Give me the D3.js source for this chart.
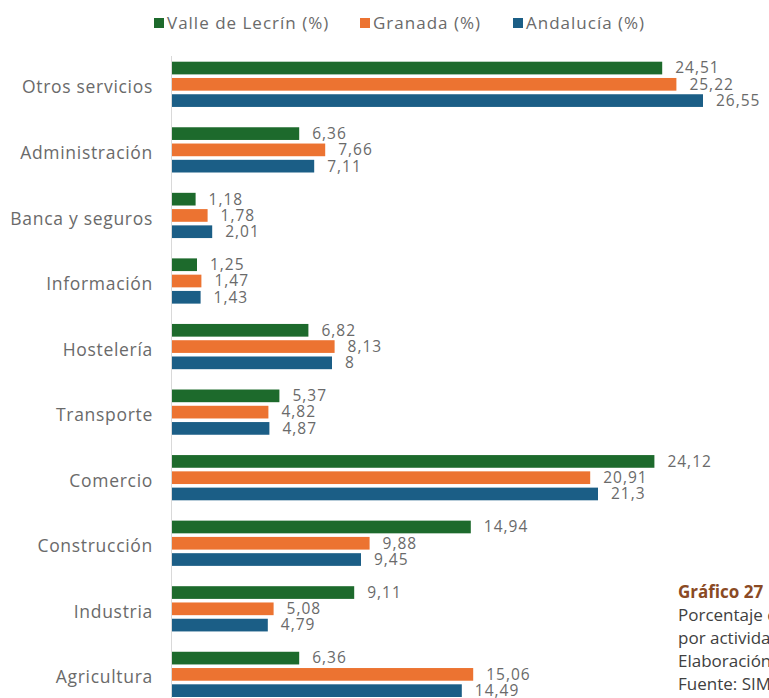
<!DOCTYPE html>
<html>
<head>
<meta charset="utf-8">
<script src="https://cdn.jsdelivr.net/npm/d3@7"></script>
<style>
  html, body { margin: 0; padding: 0; background: #fff; overflow: hidden; }
  svg { display: block; font-family: "Open Sans", sans-serif; }
</style>
</head>
<body>
<svg id="chart" width="769" height="698"></svg>
<script>
// sectors, top to bottom
const categories = [
  'Otros servicios', 'Administración', 'Banca y seguros', 'Información',
  'Hostelería', 'Transporte', 'Comercio', 'Construcción', 'Industria', 'Agricultura'
];
const series = ['Valle de Lecrín (%)', 'Granada (%)', 'Andalucía (%)'];
const valle = [24.51, 6.36, 1.18, 1.25, 6.82, 5.37, 24.12, 14.94, 9.11, 6.36];
const granada = [25.22, 7.66, 1.78, 1.47, 8.13, 4.82, 20.91, 9.88, 5.08, 15.06];
const andalucia = [26.55, 7.11, 2.01, 1.43, 8, 4.87, 21.3, 9.45, 4.79, 14.49];
const colors = ['#1d6a2c', '#ec7331', '#1b5e86'];
const noteLines = ['Porcentaje de afiliación', 'por actividad', 'Elaboración propia', 'Fuente: SIMA'];

const values = [valle, granada, andalucia];
const svg = d3.select('#chart');
const textGray = '#6a6a6a';

const x = d3.scaleLinear().domain([0, 26.55]).range([172, 703]);
const y = d3.scaleBand().domain(categories).range([61.7, 697]).paddingInner(0.31).paddingOuter(0);
const yInner = d3.scaleBand().domain(series).range([0, y.bandwidth()]).paddingInner(0.22);

// thin vertical axis line
svg.append('line')
  .attr('x1', x(0) - 0.5).attr('x2', x(0) - 0.5)
  .attr('y1', 56).attr('y2', 698)
  .attr('stroke', '#d9d9d9').attr('stroke-width', 1);

// category labels
const yAxis = svg.append('g')
  .attr('transform', `translate(${x(0) - 19},3.5)`)
  .call(d3.axisLeft(y).tickSize(0).tickPadding(0));
yAxis.select('.domain').remove();
yAxis.selectAll('text')
  .attr('fill', textGray)
  .style('font-size', '17.5px')
  .style('letter-spacing', '0.7px')
  .style('font-family', '"Open Sans", sans-serif');

// bars + value labels
series.forEach((s, si) => {
  const g = svg.append('g');
  g.selectAll('rect')
    .data(categories)
    .join('rect')
    .attr('x', x(0))
    .attr('y', c => y(c) + yInner(s))
    .attr('width', (c, i) => x(values[si][i]) - x(0))
    .attr('height', yInner.bandwidth())
    .attr('fill', colors[si]);

  g.selectAll('text')
    .data(categories)
    .join('text')
    .attr('x', (c, i) => x(values[si][i]) + 13)
    .attr('y', c => y(c) + yInner(s) + yInner.bandwidth() - 1)
    .attr('fill', textGray)
    .style('font-size', '15.5px')
    .style('letter-spacing', '1px')
    .text((c, i) => String(values[si][i]).replace('.', ','));
});

// legend
const legendX = [154, 360, 513];
series.forEach((s, i) => {
  svg.append('rect')
    .attr('x', legendX[i]).attr('y', 18)
    .attr('width', 10).attr('height', 10)
    .attr('fill', colors[i]);
  svg.append('text')
    .attr('x', legendX[i] + 13).attr('y', 29)
    .attr('fill', textGray)
    .style('font-size', '17px')
    .style('letter-spacing', '1px')
    .text(s);
});

// side caption (runs off the page edge)
svg.append('text')
  .attr('x', 678).attr('y', 598)
  .attr('fill', '#8a4a24')
  .style('font-size', '17px')
  .style('font-weight', 'bold')
  .text('Gráfico 27');
svg.selectAll('.note')
  .data(noteLines)
  .join('text')
  .attr('class', 'note')
  .attr('x', 678)
  .attr('y', (d, i) => 621 + i * 23)
  .attr('fill', '#404040')
  .style('font-size', '17px')
  .text(d => d);
</script>
</body>
</html>
